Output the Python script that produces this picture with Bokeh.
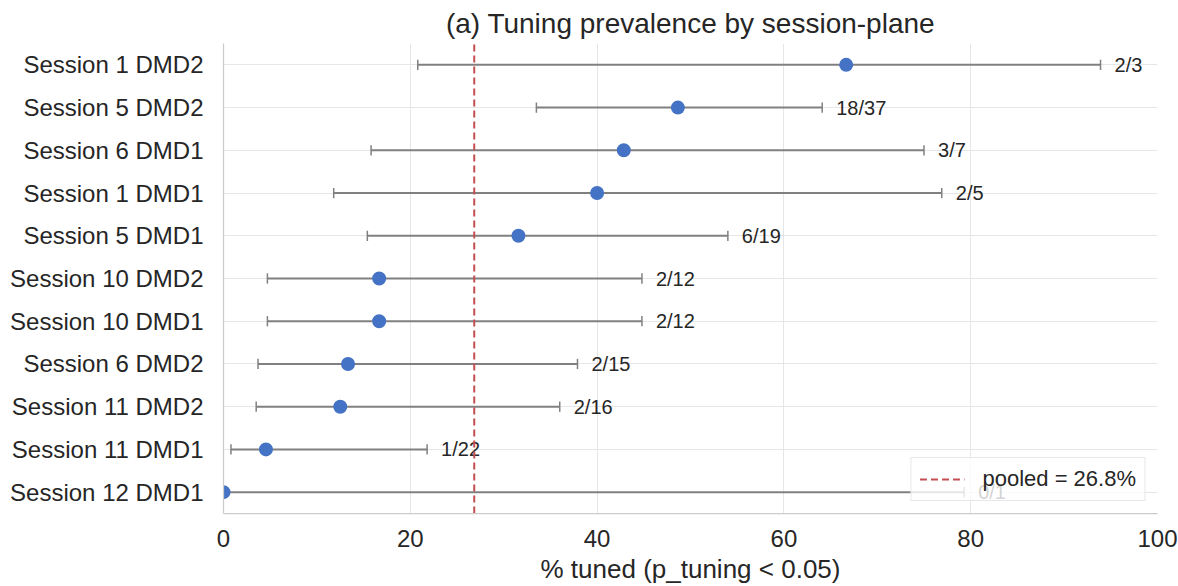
from bokeh.plotting import figure
from bokeh.models import ColumnDataSource, Range1d, FixedTicker, Legend, LegendItem
from bokeh.core.properties import value
from bokeh.embed import file_html
from bokeh.resources import INLINE

# Session-plane tuning counts (top row first)
planes = ["Session 1 DMD2", "Session 5 DMD2", "Session 6 DMD1", "Session 1 DMD1",
          "Session 5 DMD1", "Session 10 DMD2", "Session 10 DMD1", "Session 6 DMD2",
          "Session 11 DMD2", "Session 11 DMD1", "Session 12 DMD1"]
n_tuned = [2, 18, 3, 2, 6, 2, 2, 2, 2, 1, 0]
n_total = [3, 37, 7, 5, 19, 12, 12, 15, 16, 22, 1]
# 95% confidence bounds, % tuned
ci_low = [20.8, 33.5, 15.8, 11.8, 15.4, 4.7, 4.7, 3.7, 3.5, 0.8, 0.0]
ci_high = [93.9, 64.1, 75.0, 76.9, 54.0, 44.8, 44.8, 37.9, 36.0, 21.8, 79.3]
x_ticks = [0, 20, 40, 60, 80, 100]

FONT = "Liberation Sans"
TEXT = "#262626"

n_rows = len(planes)
ys = [n_rows - 1 - i for i in range(n_rows)]
pct = [100.0 * k / n for k, n in zip(n_tuned, n_total)]
pooled = 100.0 * sum(n_tuned) / sum(n_total)

src = ColumnDataSource(dict(
    y=ys, pct=pct, lo=ci_low, hi=ci_high,
    cap0=[y - 0.12 for y in ys], cap1=[y + 0.12 for y in ys],
    lab=[f"{k}/{n}" for k, n in zip(n_tuned, n_total)],
    lab_x=[h + 1.5 for h in ci_high],
))

p = figure(width=1178, height=586, output_backend="svg", toolbar_location=None,
           x_range=Range1d(0, 100), y_range=Range1d(-0.5, n_rows - 0.5),
           min_border_left=223, min_border_right=21, min_border_top=43,
           min_border_bottom=73, title="(a) Tuning prevalence by session-plane")
p.outline_line_color = None
p.background_fill_color = "white"

p.title.align = "center"
p.title.text_font = FONT
p.title.text_font_size = "28px"
p.title.text_font_style = "normal"
p.title.text_color = TEXT
p.title.offset = -6
p.title.standoff = 9

# axes
p.xaxis.ticker = FixedTicker(ticks=x_ticks)
p.yaxis.ticker = FixedTicker(ticks=ys)
p.yaxis.major_label_overrides = {y: name for y, name in zip(ys, planes)}
p.xaxis.axis_label = "% tuned (p_tuning < 0.05)"
for ax in (p.xaxis, p.yaxis):
    ax.axis_line_color = "#CCCCCC"
    ax.axis_line_width = 1.25
    ax.major_tick_line_color = None
    ax.minor_tick_line_color = None
    ax.major_label_text_font = FONT
    ax.major_label_text_font_size = "24px"
    ax.major_label_text_color = TEXT
    ax.axis_label_text_font = FONT
    ax.axis_label_text_font_size = "26px"
    ax.axis_label_text_font_style = "normal"
    ax.axis_label_text_color = TEXT
p.xaxis.major_label_standoff = 10
p.xaxis.axis_label_standoff = 4
p.yaxis.major_label_standoff = 14

p.xgrid.ticker = FixedTicker(ticks=x_ticks)
p.ygrid.ticker = FixedTicker(ticks=ys)
p.grid.grid_line_color = "#E6E6E6"
p.grid.grid_line_width = 1

# confidence intervals with end caps
p.segment(x0="lo", y0="y", x1="hi", y1="y", source=src, line_color="#808080", line_width=2)
p.segment(x0="lo", y0="cap0", x1="lo", y1="cap1", source=src, line_color="#808080", line_width=1.5)
p.segment(x0="hi", y0="cap0", x1="hi", y1="cap1", source=src, line_color="#808080", line_width=1.5)

# point estimates
p.scatter(x="pct", y="y", source=src, size=14, fill_color="#4472C4", line_color=None)

# count labels
p.text(x="lab_x", y="y", text="lab", source=src, text_font=value(FONT),
       text_font_size="20px", text_color=TEXT, text_align="left", text_baseline="middle")

# pooled prevalence reference line
pool_src = ColumnDataSource(dict(x=[pooled], y0=[-0.5], y1=[n_rows - 0.5]))
r_pool = p.segment(x0="x", y0="y0", x1="x", y1="y1", source=pool_src,
                   line_color="#C44E52", line_width=2, line_dash="7 4")

legend = Legend(items=[LegendItem(label=f"pooled = {pooled:.1f}%", renderers=[r_pool])],
                location="bottom_right", orientation="vertical")
legend.label_text_font = FONT
legend.label_text_font_size = "22px"
legend.label_text_color = TEXT
legend.glyph_width = 45
legend.label_standoff = 18
legend.padding = 8
legend.margin = 12
legend.border_line_color = "#D0D0D0"
legend.border_line_width = 1
legend.background_fill_color = "white"
legend.background_fill_alpha = 0.8
p.add_layout(legend)

open("out.html", "w").write(file_html(p, INLINE))
